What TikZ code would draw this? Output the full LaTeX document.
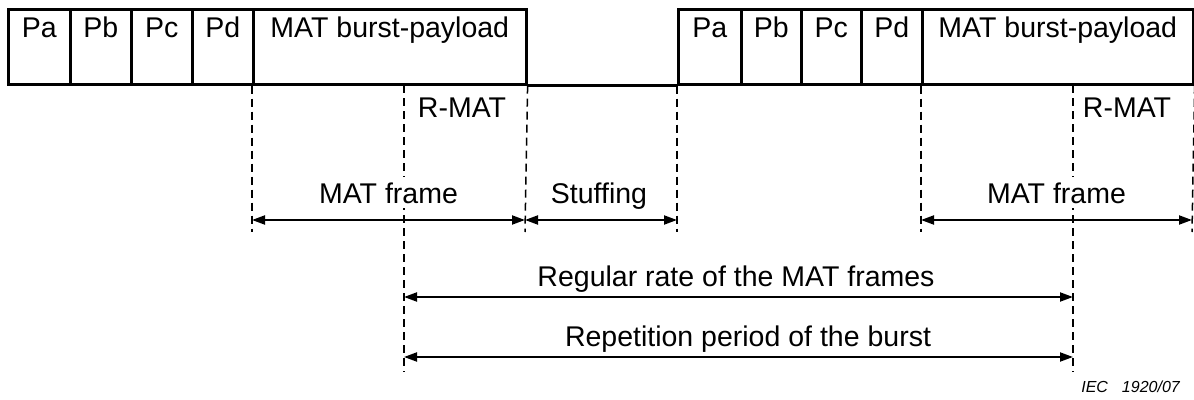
\documentclass[tikz,border=0pt]{standalone}
\usepackage{fontspec}
\setmainfont{Liberation Sans}
\usetikzlibrary{arrows.meta}
\begin{document}
\begin{tikzpicture}[x=1pt,y=-1pt,
  cell/.style={draw,line width=2.6pt,rectangle,inner sep=0pt,anchor=north west,minimum height=75pt},
  txt/.style={inner sep=0pt,anchor=base,font=\fontsize{28.5}{32}\selectfont},
  wtxt/.style={txt,fill=white,inner xsep=2pt,inner ysep=5pt},
  guide/.style={line width=1.5pt,dash pattern=on 8pt off 5pt},
  arr/.style={line width=2pt,{Triangle[length=13pt,width=9pt]}-{Triangle[length=13pt,width=9pt]}},
  iec/.style={inner sep=0pt,anchor=base east,font=\fontsize{16}{18}\selectfont\itshape}]
\useasboundingbox (0,0) rectangle (1194,399);
% first burst
\node[cell,minimum width=62pt] (pa1) at (7,8) {};
\node[cell,minimum width=61pt] (pb1) at (69,8) {};
\node[cell,minimum width=61pt] (pc1) at (130,8) {};
\node[cell,minimum width=61pt] (pd1) at (191,8) {};
\node[cell,minimum width=273pt] (mat1) at (252,8) {};
% second burst
\node[cell,minimum width=63pt] (pa2) at (677,8) {};
\node[cell,minimum width=60pt] (pb2) at (740,8) {};
\node[cell,minimum width=60pt] (pc2) at (800,8) {};
\node[cell,minimum width=61pt] (pd2) at (860,8) {};
\node[cell,minimum width=271pt] (mat2) at (921,8) {};
% cell texts
\foreach \c/\t in {pa1/Pa,pb1/Pb,pc1/Pc,pd1/Pd,mat1/MAT burst-payload,pa2/Pa,pb2/Pb,pc2/Pc,pd2/Pd,mat2/MAT burst-payload}
  \node[txt] (t\c) at ([yshift=-29pt]\c.north) {\t};
% stuffing baseline
\draw[line width=2.6pt] (mat1.south east) -- (pa2.south west);
% dashed guides
\coordinate (g1) at (252,232);
\coordinate (g2t) at (404,85);
\coordinate (g2) at (404,372);
\coordinate (g3) at (525,232);
\coordinate (g4) at (677,232);
\coordinate (g5) at (921,232);
\coordinate (g6t) at (1073,85);
\coordinate (g6) at (1073,372);
\coordinate (g7) at (1192,232);
\draw[guide] (mat1.south west) -- (g1);
\draw[guide] (g2t) -- (g2);
\draw[guide] (mat1.south east) -- (g3);
\draw[guide] (pa2.south west) -- (g4);
\draw[guide] (mat2.south west) -- (g5);
\draw[guide] (g6t) -- (g6);
\draw[guide] (mat2.south east) -- (g7);
% R-MAT labels
\node[txt] (rmat1) at (462,117) {R-MAT};
\node[txt] (rmat2) at (1127,117) {R-MAT};
% arrows
\coordinate (a1l) at (252,220);
\coordinate (a1r) at (525,220);
\coordinate (a2r) at (677,220);
\coordinate (a3l) at (921,220);
\coordinate (a3r) at (1192,220);
\draw[arr] (a1l) -- (a1r);
\draw[arr] (a1r) -- (a2r);
\draw[arr] (a3l) -- (a3r);
\node[wtxt] (mf1) at (388.5,203) {MAT frame};
\node[wtxt] (stf) at (599,203) {Stuffing};
\node[wtxt] (mf2) at (1056.5,203) {MAT frame};
\coordinate (r1l) at (404,297);
\coordinate (r1r) at (1073,297);
\coordinate (r2l) at (404,357);
\coordinate (r2r) at (1073,357);
\draw[arr] (r1l) -- (r1r);
\draw[arr] (r2l) -- (r2r);
\node[txt] (reg) at (736,286) {Regular rate of the MAT frames};
\node[txt] (rep) at (748,346) {Repetition period of the burst};
\node[iec] (iec) at (1180,392) {IEC\hspace{14pt}1920/07};
\end{tikzpicture}
\end{document}
